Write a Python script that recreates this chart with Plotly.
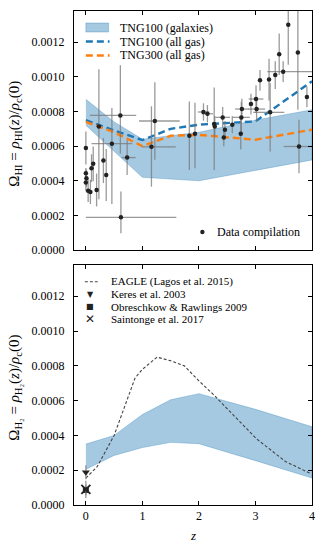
import plotly.graph_objects as go

# ---------------- data: top panel (HI) ----------------
band_z = [0.0, 0.5, 1.0, 1.5, 2.0, 3.0, 4.0]
hi_band_upper = [0.00087, 0.00074, 0.00064, 0.00066, 0.00068, 0.00075, 0.00081]
hi_band_lower = [0.00072, 0.00057, 0.00042, 0.00041, 0.00040, 0.00046, 0.00052]

line_z = [0.0, 0.5, 1.0, 1.5, 2.0, 3.0, 4.0]
tng100_gas = [0.00075, 0.00069, 0.000635, 0.00070, 0.000724, 0.000743, 0.000974]
tng300_gas = [0.00074, 0.00068, 0.000600, 0.00066, 0.000665, 0.000637, 0.000695]

# data compilation (units of 1e-4)
obs_z = [0.00, 0.00, 0.01, 0.00, 0.04, 0.08, 0.10, 0.13, 0.19, 0.31, 0.36, 0.23,
         0.61, 0.46, 0.73, 0.62, 1.22, 1.16, 1.83, 1.93, 2.08, 2.15, 2.42, 2.27,
         2.28, 2.46, 2.59, 2.44, 2.74, 2.75, 2.76, 2.92, 3.02, 3.01, 3.08, 3.58,
         3.42, 3.75, 3.49, 3.35, 3.24, 3.26, 3.91, 3.77]
obs_om = [5.89, 4.44, 4.15, 3.90, 3.42, 3.36, 4.73, 4.98, 3.47, 5.17, 4.34, 7.14,
          7.77, 6.14, 5.34, 1.89, 7.45, 5.96, 6.60, 6.71, 7.97, 7.87, 7.66, 7.28,
          7.14, 6.95, 7.24, 6.50, 6.71, 7.66, 8.14, 8.43, 8.14, 8.72, 9.80, 13.0,
          11.3, 11.4, 10.3, 10.1, 9.84, 7.95, 8.84, 5.98]
obs_ey_plus = [0.95, 0.30, 0.50, 0.50, 0.65, 0.70, 0.80, 1.00, 0.95, 1.30, 1.50, 3.30,
               2.90, 2.06, 1.00, 1.49, 2.24, 2.34, 1.98, 1.79, 0.50, 0.50, 0.60, 2.10,
               0.60, 0.50, 0.50, 0.50, 0.90, 0.90, 0.60, 0.60, 0.70, 0.80, 0.60, 0.90,
               1.20, 2.50, 0.60, 0.80, 1.20, 1.70, 0.60, 1.54]
obs_ey_minus = [0.95, 0.30, 0.50, 0.50, 0.65, 0.70, 0.80, 1.00, 0.95, 1.30, 1.50, 4.20,
                2.20, 3.48, 1.00, 0.92, 2.24, 2.30, 1.97, 1.98, 0.50, 0.50, 0.60, 2.65,
                0.60, 0.50, 0.50, 0.50, 0.90, 0.90, 0.60, 0.60, 0.70, 0.80, 0.60, 2.30,
                1.20, 3.30, 0.60, 0.80, 1.20, 2.26, 0.60, 1.54]
obs_ex_plus = [0, 0, 0, 0, 0, 0, 0, 0, 0, 0, 0, 0,
               0.28, 0.36, 0.15, 0.98, 0.44, 0.43, 0, 0, 0.10, 0.10, 0.13, 0,
               0, 0, 0, 0, 0, 0.15, 0.12, 0, 0.15, 0.13, 0, 0,
               0, 0, 0.51, 0, 0, 0.25, 0, 0.23]
obs_ex_minus = [0, 0, 0, 0, 0, 0, 0, 0, 0, 0, 0, 0,
                0.54, 0.36, 0.10, 0.62, 0.28, 0.16, 0, 0, 0.10, 0.10, 0.13, 0,
                0, 0, 0, 0, 0, 0.15, 0.12, 0, 0.15, 0.13, 0, 0,
                0, 0, 0.28, 0, 0, 0.30, 0, 0.27]

# ---------------- data: bottom panel (H2) ----------------
h2_band_upper = [0.00035, 0.00040, 0.00052, 0.000605, 0.00064, 0.00055, 0.00045]
h2_band_lower = [0.000205, 0.000285, 0.00033, 0.00036, 0.000352, 0.000255, 0.000155]

eagle_z = [0.0, 0.2, 0.5, 0.87, 1.0, 1.26, 1.49, 1.74, 2.01, 2.24, 2.48, 3.02, 3.53, 3.98]
eagle_h2 = [0.000155, 0.00022, 0.00040, 0.00073, 0.00078, 0.00085, 0.00083, 0.00080,
            0.00071, 0.00064, 0.00056, 0.00038, 0.00025, 0.00018]

keres_z, keres_h2, keres_err = [0.0], [0.000188], [0.00004]
obres_z, obres_h2, obres_err = [0.0], [0.0000865], [0.00003]
saint_z, saint_h2, saint_err = [0.0], [0.00009], [0.00005]

tick_vals = [0.0, 0.0002, 0.0004, 0.0006, 0.0008, 0.0010, 0.0012]
tick_text = ["0.0000", "0.0002", "0.0004", "0.0006", "0.0008", "0.0010", "0.0012"]
z_ticks = [0, 1, 2, 3, 4]
z_tick_text = ["0", "1", "2", "3", "4"]

FONT = "Liberation Serif"
C0 = "#1f77b4"
C1 = "#ff7f0e"
BAND = "rgba(31,119,180,0.40)"
ERR = "rgba(120,120,120,0.75)"

L, R, T, B = 74, 4, 11, 45
W, H = 319, 550
PW = W - L - R
PH = H - T - B

fig = go.Figure()

# top: band
fig.add_trace(go.Scatter(
    x=band_z + band_z[::-1], y=hi_band_upper + hi_band_lower[::-1],
    fill="toself", fillcolor=BAND, mode="lines",
    line=dict(color="rgba(31,119,180,0.5)", width=0.6),
    showlegend=False, hoverinfo="skip", xaxis="x", yaxis="y"))
fig.add_trace(go.Scatter(
    x=line_z, y=tng100_gas, mode="lines",
    line=dict(color=C0, width=2.4, dash="7px,4px"),
    showlegend=False, xaxis="x", yaxis="y"))
fig.add_trace(go.Scatter(
    x=line_z, y=tng300_gas, mode="lines",
    line=dict(color=C1, width=2.4, dash="7px,4px"),
    showlegend=False, xaxis="x", yaxis="y"))
fig.add_trace(go.Scatter(
    x=obs_z, y=[v * 1e-4 for v in obs_om], mode="markers",
    marker=dict(color="#222222", size=4.5),
    error_y=dict(type="data", symmetric=False,
                 array=[v * 1e-4 for v in obs_ey_plus],
                 arrayminus=[v * 1e-4 for v in obs_ey_minus],
                 color=ERR, thickness=1.3, width=0),
    error_x=dict(type="data", symmetric=False, array=obs_ex_plus,
                 arrayminus=obs_ex_minus, color=ERR, thickness=1.3, width=0),
    showlegend=False, xaxis="x", yaxis="y"))

# bottom: band
fig.add_trace(go.Scatter(
    x=band_z + band_z[::-1], y=h2_band_upper + h2_band_lower[::-1],
    fill="toself", fillcolor=BAND, mode="lines",
    line=dict(color="rgba(31,119,180,0.5)", width=0.6),
    showlegend=False, hoverinfo="skip", xaxis="x2", yaxis="y2"))
fig.add_trace(go.Scatter(
    x=eagle_z, y=eagle_h2, mode="lines",
    line=dict(color="#444444", width=1.1, dash="3px,2px"),
    showlegend=False, xaxis="x2", yaxis="y2"))
fig.add_trace(go.Scatter(
    x=keres_z, y=keres_h2, mode="markers",
    marker=dict(symbol="triangle-down", color="#222222", size=7),
    error_y=dict(type="data", array=keres_err, color=ERR, thickness=1.3, width=0),
    showlegend=False, xaxis="x2", yaxis="y2"))
fig.add_trace(go.Scatter(
    x=obres_z, y=obres_h2, mode="markers",
    marker=dict(symbol="square", color="#222222", size=6),
    error_y=dict(type="data", array=obres_err, color=ERR, thickness=1.3, width=0),
    showlegend=False, xaxis="x2", yaxis="y2"))
fig.add_trace(go.Scatter(
    x=saint_z, y=saint_h2, mode="markers",
    marker=dict(symbol="x-thin", color="#222222", size=9,
                line=dict(color="#222222", width=1.8)),
    error_y=dict(type="data", array=saint_err, color=ERR, thickness=1.3, width=0),
    showlegend=False, xaxis="x2", yaxis="y2"))

axis_common = dict(showline=True, linecolor="black", linewidth=1, mirror="ticks",
                   ticks="inside", ticklen=4, tickwidth=1, tickcolor="black",
                   showgrid=False, zeroline=False,
                   tickfont=dict(family=FONT, size=12, color="black"))

fig.update_layout(
    width=W, height=H,
    margin=dict(l=L, r=R, t=T, b=B),
    plot_bgcolor="white", paper_bgcolor="white",
    font=dict(family=FONT, size=12, color="black"),
    showlegend=False,
    xaxis=dict(domain=[0, 1], anchor="y", range=[-0.21, 4.0], tickvals=z_ticks,
               showticklabels=False, **axis_common),
    yaxis=dict(domain=[0.516, 1], anchor="x", range=[0, 0.00138], tickvals=tick_vals,
               ticktext=tick_text, ticklabelstandoff=6, **axis_common),
    xaxis2=dict(domain=[0, 1], anchor="y2", range=[-0.21, 4.0], tickvals=z_ticks,
                ticktext=z_tick_text, ticklabelstandoff=0, **axis_common),
    yaxis2=dict(domain=[0, 0.486], anchor="x2", range=[0, 0.00138], tickvals=tick_vals,
                ticktext=tick_text, ticklabelstandoff=6, **axis_common),
)

def px_x(p):
    return (p - L) / PW

def px_y(p):
    return (H - B - p) / PH

def note(xp, yp, text, size, family=FONT, xanchor="center", angle=0, color="black"):
    return dict(x=px_x(xp), y=px_y(yp), xref="paper", yref="paper", showarrow=False,
                xanchor=xanchor, yanchor="middle", textangle=angle,
                font=dict(family=family, size=size, color=color), text=text)

ann = []
# y-axis titles
ann.append(note(14, 134, "Ω<sub>HI</sub> = <i>ρ</i><sub>HI</sub>(<i>z</i>)/<i>ρ</i><sub>c</sub>(0)", 15, angle=-90))
ann.append(note(14, 388, "Ω<sub>H₂</sub> = <i>ρ</i><sub>H₂</sub>(<i>z</i>)/<i>ρ</i><sub>c</sub>(0)", 15, angle=-90))
# x title
ann.append(note(194.5, 535, "<i>z</i>", 13))

shapes = []
# top legend
top_rows = [27.5, 41.5, 55.5]
top_labels = ["TNG100 (galaxies)", "TNG100 (all gas)", "TNG300 (all gas)"]
shapes.append(dict(type="rect", xref="paper", yref="paper",
                   x0=px_x(86), x1=px_x(109), y0=px_y(top_rows[0] + 4.5), y1=px_y(top_rows[0] - 4.5),
                   fillcolor=BAND, line=dict(color="rgba(31,119,180,0.5)", width=0.6)))
for row, col in zip(top_rows[1:], [C0, C1]):
    shapes.append(dict(type="line", xref="paper", yref="paper",
                       x0=px_x(86), x1=px_x(110), y0=px_y(row), y1=px_y(row),
                       line=dict(color=col, width=2.4, dash="7px,4px")))
for row, lab in zip(top_rows, top_labels):
    ann.append(note(119, row, lab, 12, xanchor="left"))
# data compilation legend
shapes.append(dict(type="circle", xref="paper", yref="paper", xsizemode="pixel", ysizemode="pixel",
                   xanchor=px_x(204), yanchor=px_y(232), x0=-2.2, x1=2.2, y0=-2.2, y1=2.2,
                   fillcolor="#222222", line=dict(width=0)))
ann.append(note(217, 232, "Data compilation", 12, xanchor="left"))

# bottom legend
bot_rows = [281.7, 294.3, 306.7, 319.0]
bot_labels = ["EAGLE (Lagos et al. 2015)", "Keres et al. 2003",
              "Obreschkow &amp; Rawlings 2009", "Saintonge et al. 2017"]
shapes.append(dict(type="line", xref="paper", yref="paper",
                   x0=px_x(85), x1=px_x(98), y0=px_y(bot_rows[0]), y1=px_y(bot_rows[0]),
                   line=dict(color="#444444", width=1.1, dash="3px,2px")))
ann.append(note(90.5, bot_rows[1], "▼", 8, family="DejaVu Sans", color="#222222"))
ann.append(note(90.5, bot_rows[2], "■", 8, family="DejaVu Sans", color="#222222"))
ann.append(note(90.5, bot_rows[3], "✕", 12, family="DejaVu Sans", color="#222222"))
for row, lab in zip(bot_rows, bot_labels):
    ann.append(note(109, row, lab, 11, xanchor="left"))

fig.update_layout(annotations=ann, shapes=shapes)
fig.write_html("out.html", config={"displayModeBar": False},
               post_script="document.body.style.margin='0px';document.body.style.overflow='hidden';")
